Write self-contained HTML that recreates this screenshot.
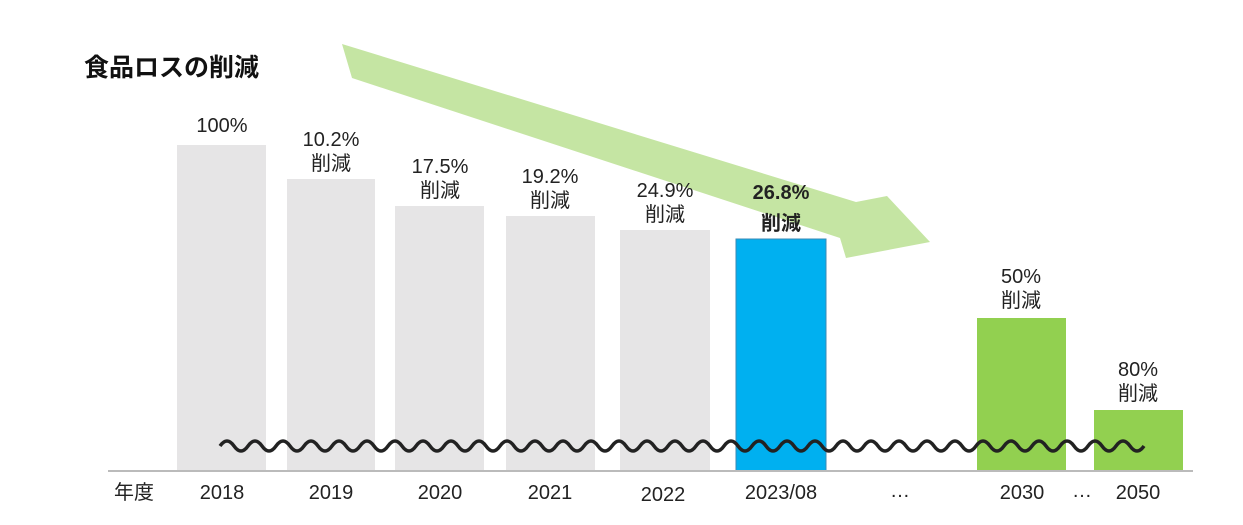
<!DOCTYPE html>
<html><head><meta charset="utf-8"><style>
body{margin:0;background:#fff;}
svg{display:block;font-family:"Liberation Sans","Noto Sans CJK JP",sans-serif;}
.l{font-size:20px;fill:#222;text-anchor:middle;}
</style></head><body>
<svg width="1243" height="525" viewBox="0 0 1243 525">
<polygon points="342,44 856,202 887,196 930,242 846,258 840,238 352,78" fill="#c5e5a3"/>
<text x="84" y="76" font-size="25" font-weight="bold" fill="#111">食品ロスの削減</text>
<g fill="#e6e5e6">
<rect x="177" y="145" width="89" height="326"/>
<rect x="287" y="179" width="88" height="292"/>
<rect x="395" y="206" width="89" height="265"/>
<rect x="506" y="216" width="89" height="255"/>
<rect x="620" y="230" width="90" height="241"/>
</g>
<rect x="736" y="239" width="90" height="232" fill="#00b0f0" stroke="#3a8ab5" stroke-width="1"/>
<rect x="977" y="318" width="89" height="152" fill="#92d050"/>
<rect x="1094" y="410" width="89" height="60" fill="#92d050"/>
<line x1="108" y1="471" x2="1193" y2="471" stroke="#bbb" stroke-width="2"/>
<path fill="none" stroke="#222" stroke-width="3.5" d="M220,446 q7,-10 14,0 t14,0 t14,0 t14,0 t14,0 t14,0 t14,0 t14,0 t14,0 t14,0 t14,0 t14,0 t14,0 t14,0 t14,0 t14,0 t14,0 t14,0 t14,0 t14,0 t14,0 t14,0 t14,0 t14,0 t14,0 t14,0 t14,0 t14,0 t14,0 t14,0 t14,0 t14,0 t14,0 t14,0 t14,0 t14,0 t14,0 t14,0 t14,0 t14,0 t14,0 t14,0 t14,0 t14,0 t14,0 t14,0 t14,0 t14,0 t14,0 t14,0 t14,0 t14,0 t14,0 t14,0 t14,0 t14,0 t14,0 t14,0 t14,0 t14,0 t14,0 t14,0 t14,0 t14,0 t14,0 t14,0"/>
<text class="l" x="222" y="132">100%</text>
<text class="l" x="331" y="146">10.2%</text><text class="l" x="331" y="170">削減</text>
<text class="l" x="440" y="173">17.5%</text><text class="l" x="440" y="197">削減</text>
<text class="l" x="550" y="183">19.2%</text><text class="l" x="550" y="207">削減</text>
<text class="l" x="665" y="197">24.9%</text><text class="l" x="665" y="221">削減</text>
<text class="l" x="781" y="199" font-weight="bold" font-size="22">26.8%</text><text class="l" x="781" y="230" font-weight="bold">削減</text>
<text class="l" x="1021" y="283">50%</text><text class="l" x="1021" y="307">削減</text>
<text class="l" x="1138" y="376">80%</text><text class="l" x="1138" y="400">削減</text>
<text class="l" x="134" y="499">年度</text>
<text class="l" x="222" y="499">2018</text>
<text class="l" x="331" y="499">2019</text>
<text class="l" x="440" y="499">2020</text>
<text class="l" x="550" y="499">2021</text>
<text class="l" x="663" y="501">2022</text>
<text class="l" x="781" y="499">2023/08</text>
<text class="l" x="900" y="497">…</text>
<text class="l" x="1022" y="499">2030</text>
<text class="l" x="1082" y="497">…</text>
<text class="l" x="1138" y="499">2050</text>
</svg>
</body></html>
